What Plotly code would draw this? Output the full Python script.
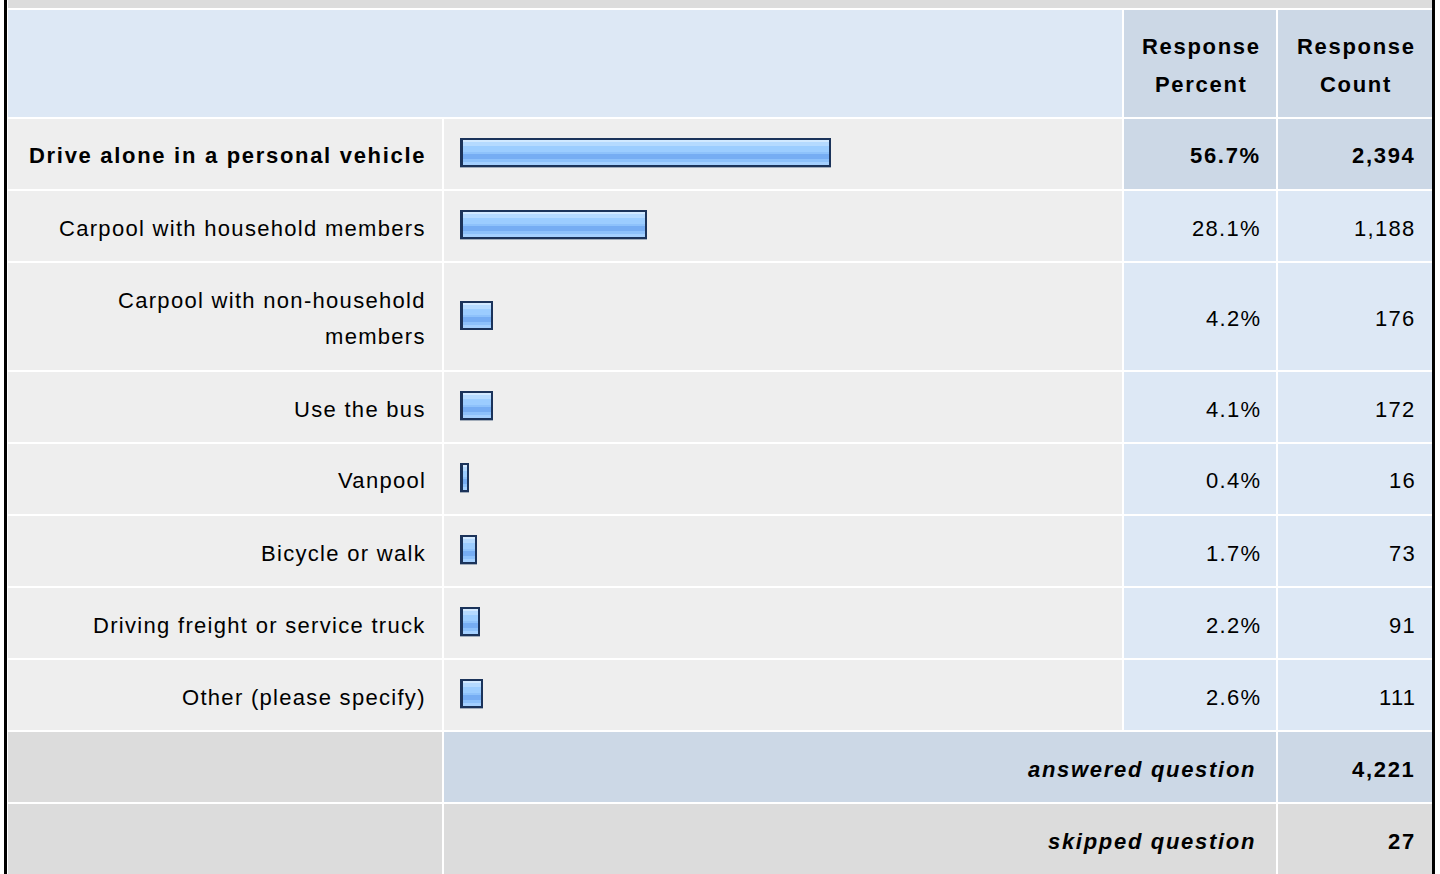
import textwrap
import plotly.graph_objects as go

# ---------------- data ----------------
categories = [
    "Drive alone in a personal vehicle",
    "Carpool with household members",
    "Carpool with non-household members",
    "Use the bus",
    "Vanpool",
    "Bicycle or walk",
    "Driving freight or service truck",
    "Other (please specify)",
]
percents = [56.7, 28.1, 4.2, 4.1, 0.4, 1.7, 2.2, 2.6]
counts = [2394, 1188, 176, 172, 16, 73, 91, 111]
header_percent = ["Response", "Percent"]
header_count = ["Response", "Count"]
answered_label = "answered question"
skipped_label = "skipped question"
answered_count = 4221
skipped_count = 27
highlight_row = 0

# ---------------- layout constants ----------------
W, H = 1440, 874
COLS = [(8, 442), (444, 1122), (1124, 1276), (1278, 1432)]
GAP = 2
HEADER_TOP, HEADER_H = 10, 107
ROW_H1, ROW_H2 = 70, 107
WRAP = 33
FONT = "Liberation Sans, Arial, sans-serif"
FS = 22
LS_B, LS_R = 1.7, 1.3

C_HDR_LIGHT = "#dde8f5"
C_HDR_DARK = "#ccd8e6"
C_ROW = "#eeeeee"
C_VAL = "#dde8f5"
C_FOOT = "#dcdcdc"

# bar scale: px per percent, zero position
S = 6.434
X0 = 466.2
BAR_LEFT_PX = 460

def px(x):
    return x / W

def py(y):
    return 1 - y / H

shapes = []
annotations = []

def rect(x0, x1, y0, y1, color):
    shapes.append(dict(type="rect", xref="paper", yref="paper",
                       x0=px(x0), x1=px(x1), y0=py(y1), y1=py(y0),
                       fillcolor=color, line=dict(width=0), layer="below"))

def text(t, x, y, anchor="right", bold=False, italic=False):
    ls = LS_B if bold else LS_R
    s = f'<span style="letter-spacing:{ls}px">{t}</span>'
    if bold:
        s = f"<b>{s}</b>"
    if italic:
        s = f"<i>{s}</i>"
    annotations.append(dict(text=s, xref="paper", yref="paper",
                            x=px(x), y=py(y), xanchor=anchor, yanchor="middle",
                            showarrow=False, borderpad=0,
                            font=dict(family=FONT, size=FS, color="#000000")))

# frame: top band, black borders
rect(8, 1432, 0, 8, C_FOOT)
rect(4, 7, 0, H, "#000000")
rect(1432, 1435, 0, H, "#000000")

# header
hy0, hy1 = HEADER_TOP, HEADER_TOP + HEADER_H
rect(COLS[0][0], COLS[1][1], hy0, hy1, C_HDR_LIGHT)
rect(COLS[2][0], COLS[2][1], hy0, hy1, C_HDR_DARK)
rect(COLS[3][0], COLS[3][1], hy0, hy1, C_HDR_DARK)
hc = (hy0 + hy1) / 2 + 2.5
for i, line in enumerate(header_percent):
    text(line, (COLS[2][0] + COLS[2][1]) / 2 + 1, hc - 19 + 38 * i, anchor="center", bold=True)
for i, line in enumerate(header_count):
    text(line, (COLS[3][0] + COLS[3][1]) / 2 + 1, hc - 19 + 38 * i, anchor="center", bold=True)

# answer rows
y = hy1 + GAP
centers = []
for i, cat in enumerate(categories):
    lines = textwrap.wrap(cat, WRAP)
    h = ROW_H1 if len(lines) == 1 else ROW_H2
    y0, y1 = y, y + h
    hl = i == highlight_row
    rect(COLS[0][0], COLS[0][1], y0, y1, C_ROW)
    rect(COLS[1][0], COLS[1][1], y0, y1, C_ROW)
    rect(COLS[2][0], COLS[2][1], y0, y1, C_HDR_DARK if hl else C_VAL)
    rect(COLS[3][0], COLS[3][1], y0, y1, C_HDR_DARK if hl else C_VAL)
    c = (y0 + y1) / 2
    centers.append(c)
    tc = c + 2
    n = len(lines)
    for k, ln in enumerate(lines):
        text(ln, COLS[0][1] - 15, tc + (k - (n - 1) / 2) * 37, bold=hl)
    text(f"{percents[i]:.1f}%", COLS[2][1] - 14, tc, bold=hl)
    text(f"{counts[i]:,}", COLS[3][1] - 15, tc, bold=hl)
    y = y1 + GAP

# answered / skipped rows
for label, val, mid_color in [(answered_label, answered_count, C_HDR_DARK),
                              (skipped_label, skipped_count, C_FOOT)]:
    y0, y1 = y, y + ROW_H1
    rect(COLS[0][0], COLS[0][1], y0, y1, C_FOOT)
    rect(COLS[1][0], COLS[2][1], y0, y1, mid_color)
    rect(COLS[3][0], COLS[3][1], y0, y1, mid_color)
    tc = (y0 + y1) / 2 + 2
    text(label, COLS[2][1] - 19, tc, bold=True, italic=True)
    text(f"{val:,}", COLS[3][1] - 15, tc, bold=True)
    y = y1 + GAP

# ---------------- bars ----------------
fig = go.Figure()
outer_base = (BAR_LEFT_PX - X0) / S
inner_base = (BAR_LEFT_PX + 3 - X0) / S
inner_right = 2 / S
BAR_TOP = -16     # relative to row centre (px)
BAR_H = 29

def bar_layer(base, lengths, top, height, color):
    fig.add_trace(go.Bar(
        orientation="h", y=centers, x=lengths, base=base,
        offset=BAR_TOP + top, width=height,
        marker=dict(color=color, line=dict(width=0)),
        hoverinfo="skip", showlegend=False))

# shadow
bar_layer(outer_base, [p - outer_base for p in percents], BAR_H - 1, 1.5, "#a3adba")
# navy frame
bar_layer(outer_base, [p - outer_base for p in percents], 0, BAR_H, "#1b335a")
# inner gradient stripes
inner_len = [p - inner_right - inner_base for p in percents]
stripes = [
    (2, 25, "#9ccdff"),
    (2, 2, "#d2e9ff"),
    (4, 4, "#b5daff"),
    (14, 2, "#8ec2fb"),
    (16, 5, "#76adf3"),
    (21, 3, "#8dc1fb"),
    (24, 3, "#a4d0ff"),
]
for top, hgt, col in stripes:
    bar_layer(inner_base, inner_len, top, hgt, col)

fig.update_layout(
    width=W, height=H,
    margin=dict(l=0, r=0, t=0, b=0),
    paper_bgcolor="#ffffff", plot_bgcolor="rgba(0,0,0,0)",
    barmode="overlay", bargap=0,
    shapes=shapes, annotations=annotations,
    xaxis=dict(range=[-X0 / S, (W - X0) / S], domain=[0, 1], visible=False,
               fixedrange=True),
    yaxis=dict(range=[H, 0], domain=[0, 1], visible=False, fixedrange=True),
    showlegend=False,
)
fig.write_html("out.html", config={"displayModeBar": False},
               post_script="document.body.style.margin='0';")
